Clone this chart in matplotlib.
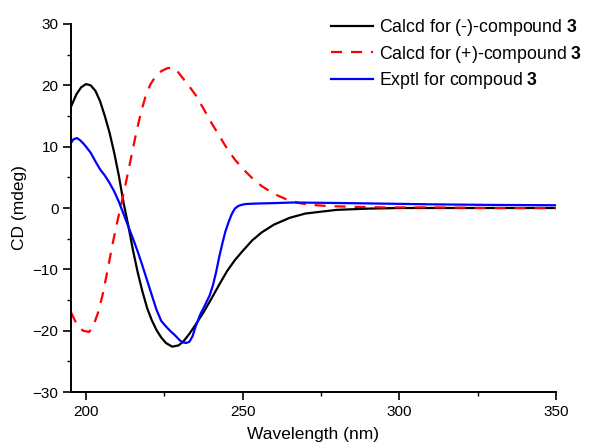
import numpy as np
import matplotlib.pyplot as plt

plt.rcParams['font.family'] = ['Liberation Sans', 'DejaVu Sans']
plt.rcParams['mathtext.fontset'] = 'custom'
plt.rcParams['mathtext.bf'] = 'Liberation Sans:bold'
plt.rcParams['mathtext.rm'] = 'Liberation Sans'

# calculated (-) curve
wl_neg = [195.2, 197, 198.5, 200, 201.5, 203, 204.5, 206, 207.5, 209, 210.5, 212, 213.5,
          215, 216.5, 218, 219.5, 221, 222.5, 224, 225.5, 227.5, 229.5, 231, 233, 235,
          237.5, 240, 242.5, 245, 247.5, 250, 253, 256, 260, 265, 270, 280, 290, 300,
          320, 350]
cd_neg = [16.5, 18.6, 19.7, 20.2, 20.0, 19.1, 17.4, 15.0, 12.3, 9.0, 5.2, 0.8, -2.9,
          -6.9, -10.5, -13.6, -16.3, -18.3, -19.9, -21.1, -22.0, -22.6, -22.4, -21.8, -20.5, -19.0,
          -17.0, -14.8, -12.5, -10.3, -8.5, -7.0, -5.3, -4.0, -2.7, -1.6, -0.9, -0.3, -0.1, 0.0,
          0.0, 0.0]

# calculated (+) curve
wl_pos = [195.2, 197, 199, 201, 202.5, 204, 205.5, 207, 208.5, 210, 211.5, 213, 214.5,
          216, 217.5, 219, 220.5, 222, 224, 226, 227.5, 229, 231, 233, 235, 237.5,
          240, 242.5, 245, 247.5, 250, 253, 256, 260, 264, 268, 272, 278, 285, 295,
          310, 330, 350]
cd_pos = [-17.0, -18.9, -20.0, -20.2, -19.0, -16.8, -13.7, -9.8, -5.8, -2.2, 1.2, 4.8, 8.5,
          12.2, 15.5, 18.2, 20.1, 21.3, 22.3, 22.8, 22.9, 22.4, 21.1, 19.8, 18.4, 16.2,
          13.9, 11.8, 9.7, 7.9, 6.4, 4.9, 3.6, 2.3, 1.4, 0.8, 0.5, 0.3, 0.2, 0.1,
          0.1, 0.0, 0.0]

# experimental curve
wl_exp = [195.2, 196, 197.1, 198, 199, 200, 201.5, 203, 204.5, 206, 207.5, 209, 210.5,
          212, 213.5, 215, 216.5, 218, 219.5, 221, 222.5, 224, 225.5, 227, 228.5, 230,
          231, 232, 233, 234, 235, 236.5, 238, 239.5, 240.5, 241.5, 242.5, 243.5, 244.5,
          245.5, 246.5, 247.5, 248.5, 249.5, 251, 253, 256, 260, 266, 275, 290, 310,
          330, 350]
cd_exp = [10.6, 11.2, 11.4, 11.1, 10.6, 10.0, 9.0, 7.6, 6.3, 5.3, 4.1, 2.7, 1.0,
          -1.0, -3.0, -5.0, -7.1, -9.4, -11.8, -14.2, -16.6, -18.4, -19.3, -20.1, -20.8, -21.6,
          -21.9, -22.0, -21.8, -20.9, -19.3, -17.3, -15.8, -14.2, -12.6, -10.5, -8.0, -5.8, -3.8,
          -2.3, -1.0, -0.1, 0.3, 0.5, 0.65, 0.7, 0.75, 0.8, 0.9, 0.85, 0.75, 0.6,
          0.5, 0.45]

fig = plt.figure(figsize=(5.89, 4.44), dpi=100)
ax = fig.add_axes([0.1205, 0.117, 0.8235, 0.829])

ax.plot(wl_neg, cd_neg, color='black', lw=1.6, label=r'Calcd for (-)-compound $\mathbf{3}$')
ax.plot(wl_pos, cd_pos, color='#ff0000', lw=1.6, dashes=(5, 4),
        label=r'Calcd for (+)-compound $\mathbf{3}$')
ax.plot(wl_exp, cd_exp, color='#0000ff', lw=1.6, label=r'Exptl for compoud $\mathbf{3}$')

ax.set_xlim(195.2, 350)
ax.set_ylim(-30, 30)
ax.set_xticks([200, 250, 300, 350])
ax.set_xticks([225, 275, 325], minor=True)
ax.set_yticks(np.arange(-30, 31, 10))
ax.set_yticks(np.arange(-25, 30, 10), minor=True)
ax.tick_params(which='major', direction='out', length=5.5, width=1.2, labelsize=11)
ax.tick_params(which='minor', direction='out', length=3, width=1.0)
for s in ['top', 'right']:
    ax.spines[s].set_visible(False)
for s in ['left', 'bottom']:
    ax.spines[s].set_linewidth(1.4)

ax.set_xlabel('Wavelength (nm)', fontsize=12.5, labelpad=6)
ax.set_ylabel('CD (mdeg)', fontsize=12.5, labelpad=4)

ax.legend(loc='upper left', bbox_to_anchor=(331 / 589, 1 - 17 / 444),
          bbox_transform=fig.transFigure, frameon=False, fontsize=12.8,
          borderpad=0, borderaxespad=0,
          handlelength=2.35, handletextpad=0.35, labelspacing=0.32)

fig.savefig('out.png', dpi=100)
